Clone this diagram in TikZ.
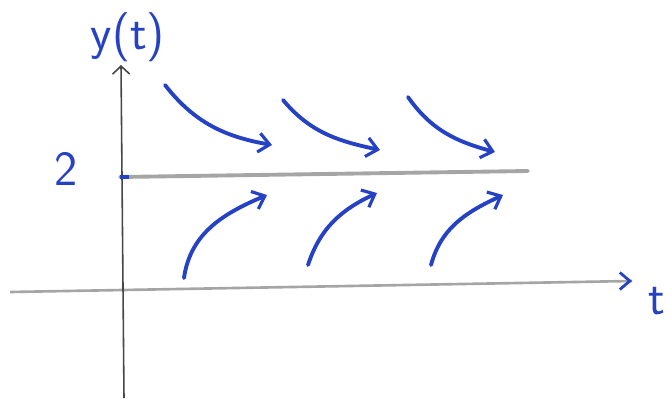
\documentclass[tikz,border=0pt]{standalone}
\usepackage{tikz}
\usetikzlibrary{arrows.meta, positioning, calc}
\definecolor{ink}{RGB}{38, 66, 196}
\definecolor{pencil}{RGB}{165, 165, 165}
\definecolor{axisgray}{RGB}{70, 70, 70}

\begin{document}
\begin{tikzpicture}[font=\sffamily,
    flow/.style={ink, line width=2.2pt, line cap=round, -{Straight Barb[length=2.2mm, width=3.8mm, line width=1.8pt]}},
    lbl/.style={text=ink, font=\sffamily\fontsize{28}{32}\selectfont}]
                \useasboundingbox (0,0) rectangle (13.42,7.96);
                % Axes
                \coordinate (tstart) at (0.20,2.12);
                \coordinate (tend) at (12.64,2.34);
                \coordinate (ybottom) at (2.48,0);
                \coordinate (ytop) at (2.42,6.66);
                \draw[pencil, line width=1.5pt] (tstart) -- (tend);
                \draw[ink, line width=1.6pt, -{Straight Barb[length=2mm, width=3.4mm]}] ($(tend)+(-0.05,0)$) -- (tend);
                \draw[axisgray, line width=0.9pt, -{Straight Barb[length=1.6mm, width=3.4mm]}] (ybottom) -- (ytop);
                % Equilibrium y = 2
                \coordinate (eqleft) at (2.40,4.42);
                \coordinate (eqright) at (10.56,4.54);
                \draw[pencil, line width=2.2pt, line cap=round] (eqleft) -- (eqright);
                \draw[ink, line width=2.2pt] (eqleft) -- ++(0.18,0);
                % Labels
                \node[lbl] (two) at (1.32,4.58) {2};
                \node[lbl] (ylabel) at (2.56,7.22) {y(t)};
                \node[lbl] (tlabel) at (13.14,1.94) {t};
                % Solutions above y = 2
                \coordinate (a1) at (3.30,6.26);  \coordinate (b1) at (5.44,5.06);
                \coordinate (a2) at (5.66,5.96);  \coordinate (b2) at (7.60,4.96);
                \coordinate (a3) at (8.16,6.02);  \coordinate (b3) at (9.90,4.92);
                \draw[flow] (a1) to[out=-52, in=170] (b1);
                \draw[flow] (a2) to[out=-50, in=168] (b2);
                \draw[flow] (a3) to[out=-55, in=165] (b3);
                % Solutions below y = 2
                \coordinate (c1) at (3.68,2.40);  \coordinate (d1) at (5.34,4.06);
                \coordinate (c2) at (6.16,2.66);  \coordinate (d2) at (7.54,4.10);
                \coordinate (c3) at (8.62,2.66);  \coordinate (d3) at (10.06,4.06);
                \draw[flow] (c1) to[out=82, in=203] (d1);
                \draw[flow] (c2) to[out=72, in=205] (d2);
                \draw[flow] (c3) to[out=75, in=205] (d3);
            \end{tikzpicture}
\end{document}
